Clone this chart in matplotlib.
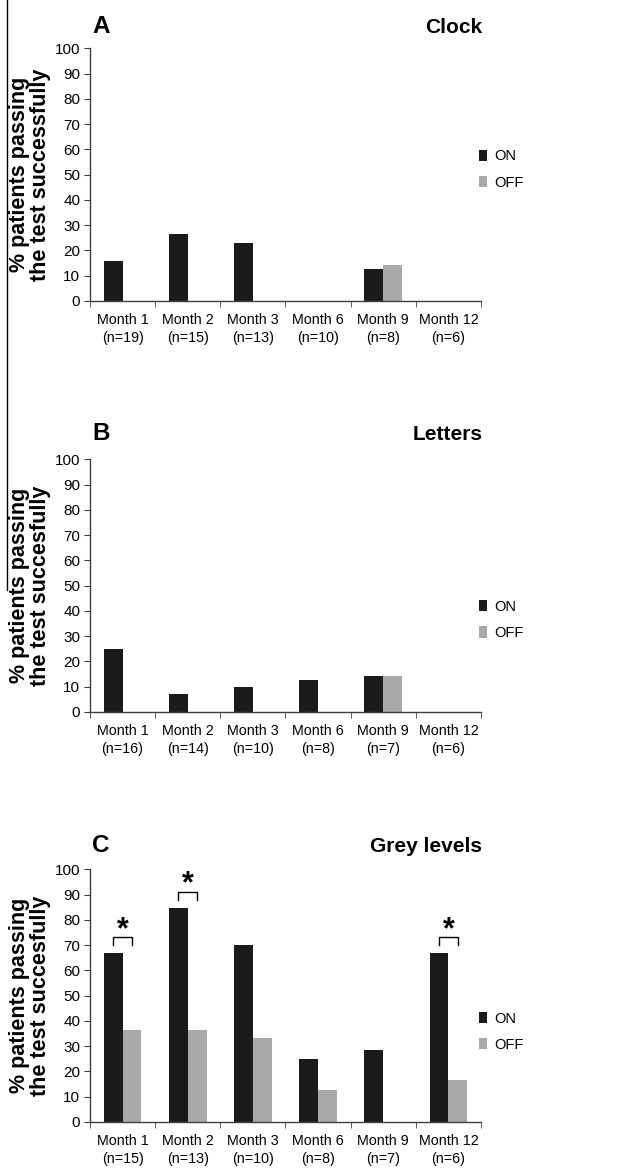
import numpy as np
import matplotlib.pyplot as plt
from matplotlib.lines import Line2D

plt.rcParams['font.family'] = ['Liberation Sans', 'DejaVu Sans']

months = ['Month 1', 'Month 2', 'Month 3', 'Month 6', 'Month 9', 'Month 12']

# panel A - Clock
clock_n = [19, 15, 13, 10, 8, 6]
clock_on = [15.8, 26.7, 23.1, 0, 12.5, 0]
clock_off = [0, 0, 0, 0, 14.3, 0]

# panel B - Letters
letters_n = [16, 14, 10, 8, 7, 6]
letters_on = [25.0, 7.1, 10.0, 12.5, 14.3, 0]
letters_off = [0, 0, 0, 0, 14.3, 0]

# panel C - Grey levels
grey_n = [15, 13, 10, 8, 7, 6]
grey_on = [66.7, 84.6, 70.0, 25.0, 28.6, 66.7]
grey_off = [36.4, 36.4, 33.3, 12.5, 0, 16.7]
grey_signif = [0, 1, 5]  # groups with a star

# letter, title, n, on, off, stars, ylabel, axes bottom, title y, legend y
panels = [
    ('A', 'Clock', clock_n, clock_on, clock_off, [],
     '% patients passing\nthe test successfully', 0.7432, 1.062, 0.52),
    ('B', 'Letters', letters_n, letters_on, letters_off, [],
     '% patients passing\nthe test succesfully', 0.3925, 1.075, 0.365),
    ('C', 'Grey levels', grey_n, grey_on, grey_off, grey_signif,
     '% patients passing\nthe test succesfully', 0.0427, 1.067, 0.357),
]

on_color = '#1b1b1b'
off_color = '#a9a9a9'
axis_color = '#404040'

fig = plt.figure(figsize=(6.22, 11.72), dpi=100)

x = np.arange(len(months)) + 0.5
w = 0.29

for letter, title, n, on, off, signif, ylab, bottom, title_y, leg_y in panels:
    ax = fig.add_axes([0.1447, bottom, 0.6286, 0.2155])
    ax.bar(x - w / 2, on, w, color=on_color, label='ON')
    ax.bar(x + w / 2, off, w, color=off_color, label='OFF')

    ax.set_xlim(0, len(months))
    ax.set_ylim(0, 100)
    ax.set_yticks(range(0, 101, 10))
    ax.set_xticks(x)
    ax.set_xticklabels([m + '\n(n=%d)' % k for m, k in zip(months, n)],
                       fontsize=10.3, linespacing=1.3)
    ax.set_xticks(np.arange(len(months) + 1), minor=True)
    ax.tick_params(axis='x', which='major', length=0, pad=9)
    ax.tick_params(axis='x', which='minor', length=4, direction='out',
                   color=axis_color)
    ax.tick_params(axis='y', length=4, direction='out', color=axis_color,
                   labelsize=11, pad=3)
    for s in ['top', 'right']:
        ax.spines[s].set_visible(False)
    for s in ['left', 'bottom']:
        ax.spines[s].set_color(axis_color)
        ax.spines[s].set_linewidth(1.0)

    ax.text(-0.153, 0.5, ylab, transform=ax.transAxes, rotation=90,
            ha='center', va='center', fontsize=15.5, fontweight='bold',
            linespacing=1.0)
    ax.text(0.005, title_y, letter, transform=ax.transAxes, fontsize=17.5,
            fontweight='bold', ha='left', va='baseline')
    ax.text(1.003, title_y, title, transform=ax.transAxes, fontsize=15,
            fontweight='bold', ha='right', va='baseline')

    # significance brackets
    for i in signif:
        top = on[i] + 6.4
        ax.plot([x[i] - w / 2, x[i] - w / 2, x[i] + w / 2, x[i] + w / 2],
                [top - 3, top, top, top - 3], color='black', lw=1.0,
                clip_on=False)
        ax.text(x[i], top - 3, '*', ha='center', va='bottom',
                fontsize=22, fontweight='bold')

    ax.legend(loc='center left', bbox_to_anchor=(0.995, leg_y),
              frameon=False, fontsize=10.5, handlelength=0.55,
              handleheight=0.8, handletextpad=0.5, labelspacing=0.85,
              borderaxespad=0, borderpad=0)

# stray vertical rule on the left edge of the original figure
fig.add_artist(Line2D([0.012, 0.012], [1.0, 1 - 590 / 1172],
                      color='black', lw=1.0))

fig.savefig('out.png', dpi=100)
